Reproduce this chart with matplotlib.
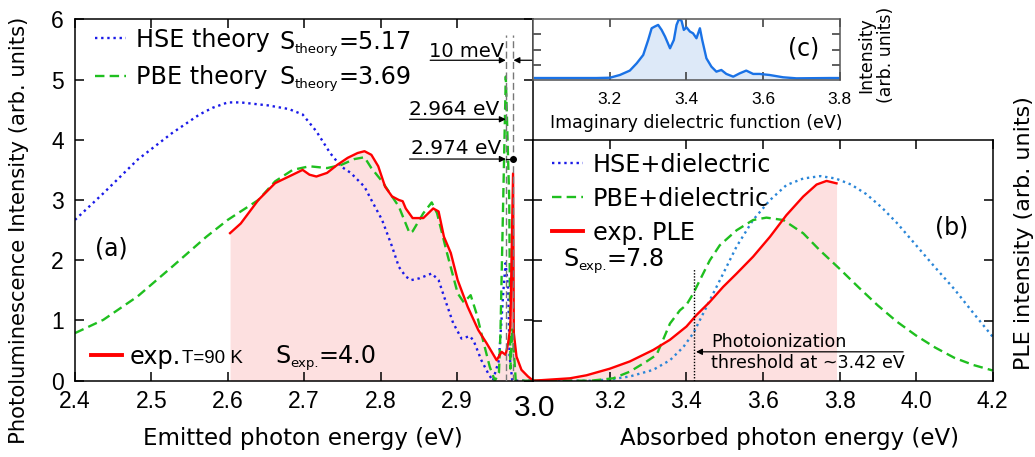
import matplotlib.pyplot as plt
from matplotlib.lines import Line2D

# ---------------- data ----------------
# (a) emission spectra
hse_x = [2.40, 2.437, 2.482, 2.527, 2.563, 2.58, 2.60, 2.617, 2.653, 2.68, 2.698, 2.716,
         2.734, 2.748, 2.761, 2.779, 2.788, 2.802, 2.815, 2.824, 2.833, 2.84, 2.851, 2.867,
         2.876, 2.886, 2.895, 2.906, 2.917, 2.922, 2.932, 2.941, 2.947, 2.955, 2.9606,
         2.9637, 2.967, 2.969, 2.9725, 3.0]
hse_y = [2.67, 3.11, 3.67, 4.11, 4.42, 4.53, 4.62, 4.62, 4.57, 4.51, 4.42, 4.14,
         3.78, 3.56, 3.45, 3.22, 3.00, 2.67, 2.23, 1.89, 1.73, 1.67, 1.70, 1.78,
         1.67, 1.29, 0.96, 0.70, 0.74, 0.66, 0.34, 0.12, 0.0, 0.34, 1.45,
         1.95, 1.56, 0.40, 0.0, 0.0]

pbe_x = [2.40, 2.437, 2.482, 2.527, 2.572, 2.60, 2.64, 2.662, 2.685, 2.707, 2.73, 2.748,
         2.766, 2.779, 2.788, 2.802, 2.815, 2.824, 2.838, 2.842, 2.856, 2.867, 2.874,
         2.887, 2.901, 2.909, 2.918, 2.926, 2.934, 2.943, 2.9497, 2.955, 2.957, 2.9606,
         2.964, 2.9685, 2.970, 2.9727, 2.977, 3.0]
pbe_y = [0.79, 1.01, 1.40, 1.89, 2.39, 2.67, 3.00, 3.31, 3.50, 3.56, 3.53, 3.58,
         3.68, 3.71, 3.53, 3.31, 3.06, 2.89, 2.45, 2.48, 2.78, 2.96, 2.78,
         2.12, 1.45, 1.30, 1.42, 1.10, 0.68, 0.23, 0.0, 0.13, 0.79, 3.0,
         5.05, 3.0, 0.2, 0.87, 0.0, 0.0]

exp_x = [2.603, 2.617, 2.64, 2.662, 2.685, 2.698, 2.707, 2.716, 2.73, 2.743, 2.757, 2.77,
         2.779, 2.788, 2.797, 2.806, 2.815, 2.824, 2.829, 2.833, 2.842, 2.856, 2.869,
         2.876, 2.883, 2.892, 2.901, 2.914, 2.928, 2.939, 2.952, 2.9585, 2.9637, 2.967,
         2.970, 2.9735, 2.9745, 2.978, 2.9845, 2.993, 3.0]
exp_y = [2.45, 2.61, 3.00, 3.28, 3.42, 3.50, 3.42, 3.39, 3.45, 3.58, 3.70, 3.78,
         3.81, 3.75, 3.56, 3.22, 3.06, 3.00, 2.98, 2.86, 2.70, 2.70, 2.86,
         2.81, 2.39, 2.12, 1.67, 1.23, 0.84, 0.62, 0.34, 0.48, 0.43, 0.62,
         0.90, 3.44, 0.79, 0.40, 0.18, 0.07, 0.0]

# (b) excitation spectra
hsed_x = [3.0, 3.15, 3.2, 3.252, 3.313, 3.357, 3.392, 3.418, 3.444, 3.47, 3.496, 3.531,
          3.574, 3.618, 3.661, 3.705, 3.75, 3.79, 3.83, 3.87, 3.91, 3.95, 4.0, 4.05,
          4.10, 4.15, 4.2]
hsed_y = [0.0, 0.0, 0.02, 0.07, 0.18, 0.34, 0.56, 0.79, 1.12, 1.45, 1.78, 2.23,
          2.67, 3.00, 3.25, 3.36, 3.40, 3.36, 3.26, 3.10, 2.88, 2.62, 2.25, 1.88,
          1.52, 1.12, 0.73]

pbed_x = [3.0, 3.15, 3.209, 3.252, 3.296, 3.322, 3.339, 3.357, 3.383, 3.40, 3.418, 3.435,
          3.461, 3.487, 3.531, 3.574, 3.609, 3.653, 3.705, 3.748, 3.80, 3.85, 3.90,
          3.95, 4.0, 4.05, 4.10, 4.15, 4.2]
pbed_y = [0.0, 0.0, 0.04, 0.15, 0.32, 0.43, 0.68, 0.95, 1.17, 1.26, 1.45, 1.67,
          2.0, 2.25, 2.50, 2.67, 2.71, 2.67, 2.45, 2.17, 1.86, 1.55, 1.25,
          0.98, 0.75, 0.55, 0.38, 0.26, 0.17]

ple_x = [3.0, 3.096, 3.139, 3.2, 3.252, 3.313, 3.357, 3.40, 3.426, 3.461, 3.496, 3.531,
         3.574, 3.618, 3.661, 3.705, 3.74, 3.766, 3.792]
ple_y = [0.0, 0.04, 0.09, 0.20, 0.32, 0.51, 0.68, 0.90, 1.09, 1.31, 1.56, 1.78,
         2.06, 2.39, 2.75, 3.06, 3.26, 3.32, 3.28]

# (c) imaginary dielectric function
eps_x = [3.004, 3.078, 3.165, 3.2, 3.226, 3.252, 3.27, 3.287, 3.30, 3.309, 3.317, 3.326,
         3.335, 3.344, 3.357, 3.367, 3.374, 3.38, 3.387, 3.393, 3.40, 3.409, 3.417, 3.426,
         3.435, 3.441, 3.452, 3.465, 3.478, 3.491, 3.504, 3.522, 3.539, 3.556, 3.574,
         3.591, 3.617, 3.652, 3.687, 3.774, 3.8]
eps_y = [0.13, 0.13, 0.13, 0.15, 0.33, 0.62, 1.10, 1.65, 2.64, 3.41, 3.52, 3.63,
         3.30, 2.86, 2.09, 2.64, 3.63, 4.0, 3.91, 3.30, 3.47, 3.19, 3.08, 2.75,
         3.41, 2.64, 1.43, 0.88, 0.55, 0.66, 0.40, 0.22, 0.44, 0.62, 0.40,
         0.40, 0.33, 0.18, 0.11, 0.13, 0.13]

peak_zpl1 = 2.964
peak_zpl2 = 2.974
threshold = 3.42

# ---------------- styling ----------------
plt.rcParams['font.family'] = 'DejaVu Sans'
plt.rcParams['axes.linewidth'] = 1.1

c_hse = '#1a1ae8'
c_hsed = '#2a86d8'
c_pbe = '#1fbf1f'
c_exp = '#ff0000'
c_fill = '#fde0e0'
dot = (0, (1, 1.6))
dash = (0, (4, 2.2))
num_font = 'Liberation Sans'
leg_fs = 17.2
sub_fs = 9.5

W, H = 1035, 457
fig = plt.figure(figsize=(W / 100, H / 100), dpi=100)


def box(x0, y0, x1, y1):
    # pixel box, top-left origin -> figure rect
    return [x0 / W, 1 - y1 / H, (x1 - x0) / W, (y1 - y0) / H]


def s_label(a, x, y, sub, rest):
    # "S" with a small subscript, then the value on the main baseline
    t = a.text(x, y, 'S', fontsize=leg_fs, ha='left', va='center')
    s = a.annotate(sub, xy=(1, 0.05), xycoords=t, fontsize=sub_fs,
                   ha='left', va='baseline')
    a.annotate(rest, xy=(1, 0), xycoords=(s, t), fontsize=leg_fs,
               ha='left', va='bottom')


ax = fig.add_axes(box(75, 19.3, 533.3, 380.7))
axb = fig.add_axes(box(533.3, 140, 992.7, 380.7))
axc = fig.add_axes(box(533.3, 19.3, 839.7, 80))

# ---- panel (a) ----
ax.fill_between(exp_x, exp_y, 0, color=c_fill, lw=0)
h_hse, = ax.plot(hse_x, hse_y, color=c_hse, ls=dot, lw=1.7)
h_pbe, = ax.plot(pbe_x, pbe_y, color=c_pbe, ls=dash, lw=1.7)
ax.plot(exp_x, exp_y, color=c_exp, lw=1.7)

ax.vlines([peak_zpl1, peak_zpl2], 0, 5.74, colors='#777777', lw=1.0,
          linestyles=(0, (5, 2.5)), zorder=5)

arw = dict(arrowstyle='-|>', color='black', lw=0.9, mutation_scale=9, shrinkA=0, shrinkB=0)
ax.text(2.9615, 5.46, '10 meV', fontsize=14, ha='right', va='center')
ax.annotate('', xy=(peak_zpl1, 5.32), xytext=(2.865, 5.32), arrowprops=arw)
ax.annotate('', xy=(peak_zpl2, 5.32), xytext=(3.0, 5.32), arrowprops=arw)
ax.text(2.956, 4.5, '2.964 eV', fontsize=14.5, ha='right', va='center')
ax.annotate('', xy=(peak_zpl1, 4.34), xytext=(2.838, 4.34), arrowprops=arw)
ax.text(2.9585, 3.86, '2.974 eV', fontsize=14.5, ha='right', va='center')
ax.annotate('', xy=(peak_zpl1, 3.68), xytext=(2.838, 3.68), arrowprops=arw)
ax.plot([peak_zpl1, peak_zpl2], [3.68, 3.68], color='black', lw=0.9, zorder=6)
ax.plot([peak_zpl2], [3.68], 'o', color='black', ms=4, zorder=6)

leg1 = ax.legend([h_hse, h_pbe], ['HSE theory', 'PBE theory'],
                 loc='upper left', bbox_to_anchor=(0.044, 0.977), frameon=False,
                 fontsize=leg_fs, handlelength=1.3, handletextpad=0.4,
                 labelspacing=0.57, borderpad=0, borderaxespad=0)
ax.add_artist(leg1)
s_label(ax, 2.668, 5.626, 'theory', '=5.17')
s_label(ax, 2.668, 5.045, 'theory', '=3.69')

ax.legend([Line2D([], [], color=c_exp, lw=2.8)], ['exp.'],
          loc='center left', bbox_to_anchor=(0.034, 0.066), frameon=False,
          fontsize=leg_fs, handlelength=1.3, handletextpad=0.33, borderpad=0, borderaxespad=0)
ax.text(2.54, 0.30, 'T=90 K', fontsize=13.5, family=num_font, ha='left', va='baseline')
s_label(ax, 2.662, 0.41, 'exp.', '=4.0')
ax.text(2.448, 2.2, '(a)', fontsize=17, ha='center', va='center')

ax.set_xlim(2.4, 3.0)
ax.set_ylim(0, 6)
ax.set_xticks([2.4, 2.5, 2.6, 2.7, 2.8, 2.9])
ax.set_yticks(range(7))
ax.tick_params(direction='in', top=True, right=True, length=6.5, width=1.1,
               labelsize=16.5, pad=6.5)
ax.tick_params(axis='y', pad=8)

# ---- panel (b) ----
axb.fill_between(ple_x, ple_y, 0, color=c_fill, lw=0)
h_hsed, = axb.plot(hsed_x, hsed_y, color=c_hsed, ls=dot, lw=1.7)
h_pbed, = axb.plot(pbed_x, pbed_y, color=c_pbe, ls=dash, lw=1.7)
axb.plot(ple_x, ple_y, color=c_exp, lw=1.7)
axb.legend([Line2D([], [], color=c_hse, ls=dot, lw=1.7), h_pbed,
            Line2D([], [], color=c_exp, lw=2.8)],
           ['HSE+dielectric', 'PBE+dielectric', 'exp. PLE'],
           loc='upper left', bbox_to_anchor=(0.041, 0.947), frameon=False,
           fontsize=leg_fs, handlelength=1.3, handletextpad=0.4,
           labelspacing=0.42, borderpad=0, borderaxespad=0)
s_label(axb, 3.0775, 2.02, 'exp.', '=7.8')
axb.text(4.094, 2.54, '(b)', fontsize=17, ha='center', va='center')

axb.vlines(threshold, 0, 1.87, colors='black', lw=1.0, linestyles=(0, (1, 1.2)))
axb.annotate('', xy=(threshold + 0.005, 0.48), xytext=(3.966, 0.48), arrowprops=arw)
axb.text(3.464, 0.65, 'Photoionization', fontsize=12.6, ha='left', va='center')
axb.text(3.464, 0.30, 'threshold at ~3.42 eV', fontsize=12.6, ha='left', va='center')

axb.set_xlim(3.0, 4.2)
axb.set_ylim(0, 4)
axb.set_xticks([3.2, 3.4, 3.6, 3.8, 4.0, 4.2])
axb.set_yticks([1, 2, 3])
axb.tick_params(direction='in', top=True, right=True, left=True, labelleft=False,
                length=6.5, width=1.1, labelsize=16.5, pad=6.5)

# ---- panel (c) inset ----
axc.fill_between(eps_x, eps_y, 0, color='#dde9f8', lw=0)
axc.plot(eps_x, eps_y, color='#1a72e6', lw=1.7)
axc.text(3.705, 2.08, '(c)', fontsize=17, ha='center', va='center')
axc.set_xlim(3.0, 3.8)
axc.set_ylim(0, 4)
axc.set_xticks([3.2, 3.4, 3.6, 3.8])
axc.set_yticks([1, 2, 3])
axc.tick_params(direction='in', top=True, right=True, left=True, labelleft=False,
                length=6, width=1.1, labelsize=12.5, pad=8.5, colors='#333333',
                labelcolor='black')
for s in axc.spines.values():
    s.set_color('#555555')

for a in (ax, axb, axc):
    for lbl in a.get_xticklabels() + a.get_yticklabels():
        lbl.set_fontfamily(num_font)

# ---- axis titles ----
fig.text(303 / W, 1 - 439 / H, 'Emitted photon energy (eV)', fontsize=16.5,
         ha='center', va='center')
fig.text(790 / W, 1 - 439 / H, 'Absorbed photon energy (eV)', fontsize=16.5,
         ha='center', va='center')
fig.text(535 / W, 1 - 407.5 / H, '3.0', fontsize=21.5, family=num_font,
         ha='center', va='center')
fig.text(19 / W, 1 - 230 / H, 'Photoluminescence Intensity (arb. units)', fontsize=15.2,
         rotation=90, ha='center', va='center')
fig.text(1024 / W, 1 - 233 / H, 'PLE intensity (arb. units)', fontsize=16,
         rotation=90, ha='center', va='center')
fig.text(696 / W, 1 - 123 / H, 'Imaginary dielectric function (eV)', fontsize=12.5,
         ha='center', va='center')
fig.text(876 / W, 1 - 55 / H, 'Intensity\n(arb. units)', fontsize=12.5,
         rotation=90, ha='center', va='center', linespacing=1.1)

fig.savefig('out.png', dpi=100)
